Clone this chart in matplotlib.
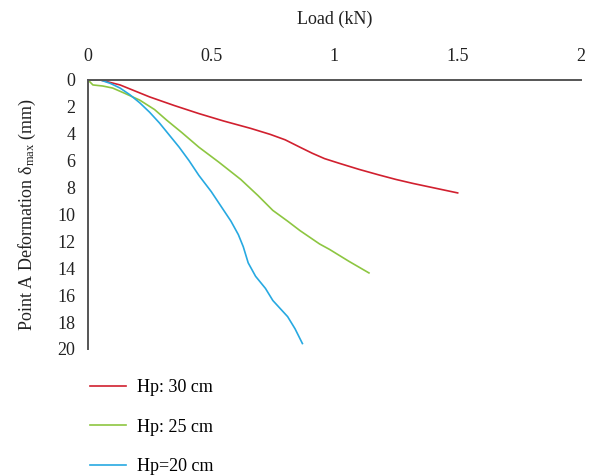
import matplotlib
matplotlib.use("Agg")
import matplotlib.pyplot as plt

# series (load in kN, deformation in mm)
load_30 = [0, 0.05, 0.13, 0.25, 0.35, 0.45, 0.55, 0.66, 0.74, 0.80, 0.86, 0.91, 0.96, 1.02, 1.10, 1.18, 1.25, 1.32, 1.41, 1.50]
defl_30 = [0, 0.0, 0.37, 1.26, 1.9, 2.5, 3.05, 3.6, 4.05, 4.45, 5.0, 5.45, 5.85, 6.2, 6.65, 7.06, 7.4, 7.7, 8.05, 8.4]

load_25 = [0, 0.02, 0.06, 0.10, 0.15, 0.21, 0.27, 0.32, 0.38, 0.45, 0.53, 0.62, 0.69, 0.75, 0.81, 0.86, 0.90, 0.94, 0.98, 1.06, 1.14]
defl_25 = [0, 0.37, 0.45, 0.6, 1.0, 1.5, 2.2, 3.0, 3.9, 5.0, 6.1, 7.4, 8.6, 9.7, 10.5, 11.2, 11.7, 12.2, 12.6, 13.5, 14.35]

load_20 = [0, 0.05, 0.09, 0.13, 0.17, 0.21, 0.25, 0.29, 0.33, 0.37, 0.41, 0.45, 0.50, 0.54, 0.58, 0.61, 0.63, 0.65, 0.68, 0.72, 0.75, 0.78, 0.81, 0.84, 0.87]
defl_20 = [0, 0.0, 0.25, 0.6, 1.1, 1.7, 2.4, 3.2, 4.1, 5.0, 6.0, 7.1, 8.3, 9.4, 10.5, 11.5, 12.4, 13.6, 14.6, 15.5, 16.4, 17.0, 17.6, 18.5, 19.6]

labels = ["Hp: 30 cm", "Hp: 25 cm", "Hp=20 cm"]
x_ticks = [0, 0.5, 1, 1.5, 2]
x_ticklabels = ["0", "0.5", "1", "1.5", "2"]

plt.rcParams['font.family'] = ['Liberation Serif', 'DejaVu Serif']
plt.rcParams['mathtext.fontset'] = 'custom'
plt.rcParams['mathtext.rm'] = 'Liberation Serif'
plt.rcParams['mathtext.it'] = 'Liberation Serif:italic'

fig = plt.figure(figsize=(5.91, 4.76), dpi=100)
ax = fig.add_axes([0.1489, 0.267, 0.834, 0.565])

ax.plot(load_30, defl_30, color="#d1202f", lw=1.2, label=labels[0])
ax.plot(load_25, defl_25, color="#8dc641", lw=1.2, label=labels[1])
ax.plot(load_20, defl_20, color="#27a9e1", lw=1.2, label=labels[2])

ax.set_xlim(0, 2)
ax.set_ylim(20, 0)
ax.xaxis.tick_top()
ax.xaxis.set_label_position("top")
ax.set_xticks(x_ticks)
ax.set_xticklabels(x_ticklabels)
ax.set_yticks(range(0, 21, 2))
ax.tick_params(length=0, labelsize=13, colors="#222222")
ax.tick_params(axis="x", pad=11)
ax.tick_params(axis="y", pad=9)

for s in ["right", "bottom"]:
    ax.spines[s].set_visible(False)
for s in ["top", "left"]:
    ax.spines[s].set_color("#555555")
    ax.spines[s].set_linewidth(1.4)

ax.set_xlabel("Load (kN)", fontsize=13, labelpad=17, color="#222222")
ax.set_ylabel(r"Point A Deformation δ$_{\mathrm{max}}$ (mm)", fontsize=13, color="#222222", labelpad=14)

fig.legend(loc="upper left", bbox_to_anchor=(0.125, 0.238), frameon=False,
           fontsize=13, handlelength=2.0, labelspacing=1.25, handletextpad=0.6)

fig.savefig("out.png", dpi=100)
